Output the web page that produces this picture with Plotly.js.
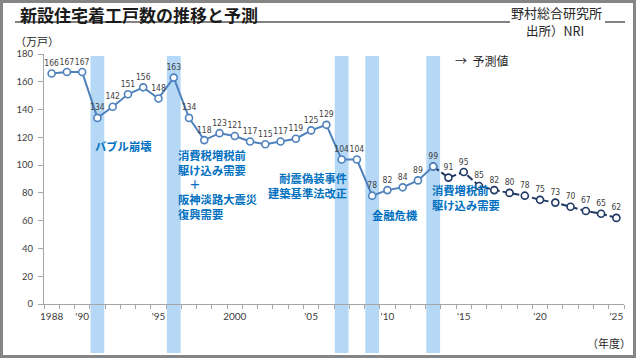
<!DOCTYPE html>
<html><head><meta charset="utf-8">
<script src="https://cdn.plot.ly/plotly-3.0.1.min.js"></script>
<style>
html,body{margin:0;padding:0;background:#fff;overflow:hidden}
#wrap{position:relative;width:636px;height:358px}
#frame{position:absolute;left:0;top:0;width:636px;height:358px;box-sizing:border-box;border:3px solid #858585;pointer-events:none}
</style></head><body>
<div id="wrap"><div id="chart" style="width:636px;height:358px"></div><div id="frame"></div></div>
<script>
// ---- data ----
const years = [1988,1989,1990,1991,1992,1993,1994,1995,1996,1997,1998,1999,2000,2001,2002,2003,2004,2005,2006,2007,2008,2009,2010,2011,2012,2013,2014,2015,2016,2017,2018,2019,2020,2021,2022,2023,2024,2025];
const starts = [166,167,167,134,142,151,156,148,163,134,118,123,121,117,115,117,119,125,129,104,104,78,82,84,89,99,91,95,85,82,80,78,75,73,70,67,65,62];
const lastActualYear = 2013;
const eventYears = [1991,1996,2007,2009,2013];
const tickYears = [1988,1990,1995,2000,2005,2010,2015,2020,2025];
const tickLabels = ['1988',"'90","'95",'2000',"'05","'10","'15","'20","'25"];
const yTicks = [0,20,40,60,80,100,120,140,160,180];

// ---- geometry helpers (plot area in pixels) ----
const L=44, T=54, W=580, H=250;
const px = x => (x-L)/W;
const py = y => (T+H-y)/H;

const actX=[],actY=[],actT=[],fcX=[],fcY=[],fcT=[];
years.forEach((yr,i)=>{
  if(yr<=lastActualYear){actX.push(yr);actY.push(starts[i]);actT.push(String(starts[i]));}
  if(yr>=lastActualYear){fcX.push(yr);fcY.push(starts[i]);fcT.push(yr===lastActualYear?'':String(starts[i]));}
});

const blue='#4f81bd', navy='#1f3864';
const labelFont={family:'"Liberation Sans Narrow", "DejaVu Sans Condensed", Lato, sans-serif',size:8.5,color:'#404040'};

const forecast={x:fcX,y:fcY,text:fcT,type:'scatter',mode:'lines+markers+text',textposition:'top center',
  textfont:labelFont,cliponaxis:false,hoverinfo:'skip',
  line:{color:navy,width:2,dash:'7px,3px'},
  marker:{size:7,color:'#ffffff',line:{color:navy,width:1.6}}};
const actual={x:actX,y:actY,text:actT,type:'scatter',mode:'lines+markers+text',textposition:'top center',
  textfont:labelFont,cliponaxis:false,hoverinfo:'skip',
  line:{color:blue,width:2},
  marker:{size:7,color:'#ffffff',line:{color:blue,width:1.6}}};

const halfYears = years.map(y=>y-0.5).concat([years[years.length-1]+0.5]);

const shapes = eventYears.map(yr=>({type:'rect',xref:'x',yref:'paper',x0:yr-0.45,x1:yr+0.45,
  y0:py(353),y1:py(56),fillcolor:'#b4d8f5',line:{width:0},layer:'below'}));
shapes.push({type:'line',xref:'paper',yref:'paper',x0:px(15),x1:px(510),y0:py(22),y1:py(22),line:{color:'#595959',width:1.5}});
shapes.push({type:'line',xref:'paper',yref:'paper',x0:px(605),x1:px(625),y0:py(22),y1:py(22),line:{color:'#595959',width:1.5}});

const jp='"Noto Sans CJK JP", sans-serif';
const ann=(text,x,y,xa,opts)=>Object.assign({text:text,x:px(x),y:py(y),xref:'paper',yref:'paper',
  xanchor:xa,yanchor:'middle',align:xa==='right'?'right':'left',showarrow:false,borderpad:0,
  font:{family:jp,size:11.3,color:'#0070c0',weight:700}},opts||{});
const plain=(size,color)=>({font:{family:jp,size:size,color:color||'#262626'}});

const annotations=[
  ann('新設住宅着工戸数の推移と予測',19,14,'left',{font:{family:jp,size:17,color:'#1a1a1a',weight:700}}),
  ann('野村総合研究所',510,12,'left',plain(13)),
  ann('出所）NRI',525,31,'left',plain(12.5)),
  ann('（万戸）',14,41,'left',plain(11)),
  ann('（年度）',632,343,'right',plain(11)),
  ann('→  予測値',454,60,'left',plain(12)),
  ann('バブル崩壊',94,146,'left'),
  ann('消費税増税前<br>駆け込み需要<br>　＋<br>阪神淡路大震災<br>復興需要',177,184,'left'),
  ann('耐震偽装事件<br>建築基準法改正',348,185.5,'right'),
  ann('金融危機',371,215,'left'),
  ann('消費増税前<br>駆け込み需要',431,197,'left')
];

const axisFont={family:'Lato, "Liberation Sans", sans-serif',size:10,color:'#404040'};
const layout={
  width:636,height:358,margin:{l:L,r:636-L-W,t:T,b:358-T-H},
  paper_bgcolor:'#ffffff',plot_bgcolor:'#ffffff',showlegend:false,
  xaxis:{range:[1987.5,2025.5],tickmode:'array',tickvals:tickYears,ticktext:tickLabels,ticks:'',
    showline:true,linecolor:'#a6a6a6',linewidth:1,showgrid:false,zeroline:false,tickfont:axisFont,
    ticklabelstandoff:3,
    minor:{tickmode:'array',tickvals:halfYears,ticks:'outside',ticklen:4,tickcolor:'#a6a6a6',showgrid:false},
    fixedrange:true},
  yaxis:{range:[0,180],tickmode:'array',tickvals:yTicks,ticks:'outside',ticklen:5,tickcolor:'#a6a6a6',
    showline:true,linecolor:'#a6a6a6',linewidth:1,showgrid:false,zeroline:false,
    tickfont:{family:'Lato, "Liberation Sans", sans-serif',size:9.5,color:'#404040'},ticklabelstandoff:3,fixedrange:true},
  shapes:shapes,annotations:annotations
};
Plotly.newPlot('chart',[forecast,actual],layout,{staticPlot:true,displayModeBar:false});
</script></body></html>
